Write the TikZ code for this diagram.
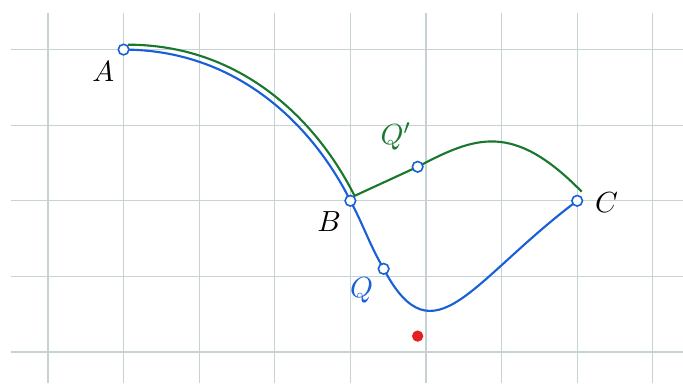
\documentclass[tikz,border=0pt]{standalone}
\definecolor{gridc}{RGB}{198,210,214}
\definecolor{lineblue}{RGB}{25,95,215}
\definecolor{linegreen}{RGB}{25,120,45}
\definecolor{dotred}{RGB}{230,32,32}
\tikzset{
    bluepath/.style={color=lineblue, line width=0.8pt},
    greenpath/.style={color=linegreen, line width=0.8pt},
    pt/.style={circle, draw=lineblue, fill=white, line width=0.6pt, inner sep=0pt, minimum size=0.14cm},
}
\begin{document}
\begin{tikzpicture}[>=latex, font=\fontsize{11}{13}\selectfont]
    \useasboundingbox (-0.635,-0.45) rectangle (8.4,4.656);
    % Lưới
    \foreach \x in {0,...,8} {
         \draw[gridc, line width=0.5pt] (\x,-0.41) -- (\x,4.48);
    }
    \foreach \y in {0,...,4} {
          \draw[gridc, line width=0.5pt] (-0.49,\y) -- (8.4,\y);
    }
    % Các điểm
    \coordinate (A) at (1,4);
    \coordinate (B) at (4,2);
    \coordinate (C) at (7,2);
    \coordinate (Q) at (4.44,1.1);
    \coordinate (Ag) at (1.055,4.065);
    \coordinate (Bg) at (4.055,2.065);
    \coordinate (Qg) at (4.89,2.45);
    \coordinate (Cg) at (7.06,2.12);
    % Đường xanh lá
    \draw[greenpath] (Ag) .. controls (2.555,4.065) and (3.555,3.065) .. (Bg)
        -- (Qg) .. controls (5.65,2.85) and (6.15,3.05) .. (Cg);
    % Đường xanh dương
    \draw[bluepath] (A) .. controls (2.5,4) and (3.5,3) .. (B)
        to[out=-62,in=120] (Q) .. controls (5.1,-0.15) and (5.6,0.95) .. (C);
    \node[pt] (mA) at (A) {};
    \node[pt] (mB) at (B) {};
    \node[pt] (mC) at (C) {};
    \node[pt] (mQ) at (Q) {};
    \node[pt] (mQg) at (Qg) {};
    \node[circle, fill=dotred, inner sep=0pt, minimum size=0.15cm] (R) at (4.89,0.21) {};
    \node (lA) at (0.73,3.71) {$A$};
    \node (lB) at (3.72,1.72) {$B$};
    \node (lC) at (7.39,1.97) {$C$};
    \node[lineblue] (lQ) at (4.15,0.82) {$Q$};
    \node[linegreen] (lQg) at (4.6,2.85) {$Q'$};
\end{tikzpicture}
\end{document}
